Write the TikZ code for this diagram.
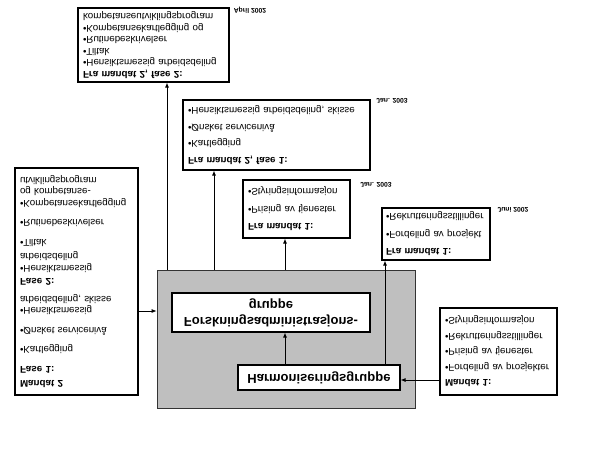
\documentclass[tikz,border=0pt]{standalone}
\usepackage{fontspec}
\setmainfont{Liberation Sans}
\usetikzlibrary{arrows.meta,positioning}

\begin{document}
\begin{tikzpicture}[x=1pt, y=1pt, yscale=-1,
    every node/.append style={transform shape},
    boks/.style={draw, line width=1.2pt, fill=white, align=left, inner xsep=4pt, inner ysep=2pt, font=\fontsize{9.8}{11.5}\selectfont},
    gruppeboks/.style={draw, line width=1.2pt, fill=white, align=center, inner sep=2pt, font=\fontsize{13}{16}\selectfont\bfseries},
    dato/.style={inner sep=0pt, font=\fontsize{6.8}{8}\selectfont\bfseries},
    pil/.style={-{Latex[length=5pt,width=4pt]}, line width=0.8pt}]
    \useasboundingbox (0,0) rectangle (599,448);
    % mandater
    \node [boks, text width=113pt, minimum width=123pt, minimum height=227pt] (mandat2) at (76.5,281.5) {\textbf{Mandat 2}\\[3pt] \textbf{Fase 1:}\\[8pt] •Kartlegging\\[8pt] •Ønsket servicenivå\\[8pt] •Hensiktsmessig\\ arbeidsdeling, skisse\\[6pt] \textbf{Fase 2:}\\[2pt] •Hensiktsmessig\\ arbeidsdeling\\[3pt] •Tiltak\\[8pt] •Rutinebeskrivelser\\[8pt] •Kompetansekartlegging\\ og kompetanse-\\ utviklingsprogram};
    \node [boks, text width=107pt, minimum width=117pt, minimum height=87pt] (mandat1) at (498.5,351.5) {\textbf{Mandat 1:}\\[4pt] •Fordeling av prosjekter\\[4pt] •Prising av tjenester\\[4pt] •Rekrutteringsstillinger\\[4pt] •Styringsinformasjon};
    % gruppene
    \node [draw=black!80, line width=0.8pt, fill=black!25, minimum width=258pt, minimum height=138pt] (gruppe) at (286,339) {};
    \node [gruppeboks, minimum width=198pt, minimum height=39pt] (forskning) at (271,312.5) {Forskningsadministrasjons-\\ gruppe};
    \node [gruppeboks, minimum width=162pt, minimum height=25pt] (harmonisering) at (319,377.5) {Harmoniseringsgruppe};
    % leveranser
    \node [boks, text width=141pt, minimum width=151pt, minimum height=74pt] (fase22) at (153.5,45) {\textbf{Fra mandat 2, fase 2:}\\ •Hensiktsmessig arbeidsdeling\\ •Tiltak\\ •Rutinebeskrivelser\\ •Kompetansekartlegging og\\ kompetanseutviklingsprogram};
    \node [boks, text width=177pt, minimum width=187pt, minimum height=70pt] (fase21) at (276.5,135) {\textbf{Fra mandat 2, fase 1:}\\[5pt] •Kartlegging\\[5pt] •Ønsket servicenivå\\[5pt] •Hensiktsmessig arbeidsdeling, skisse};
    \node [boks, text width=97pt, minimum width=107pt, minimum height=58pt] (fra1b) at (296.5,209) {\textbf{Fra mandat 1:}\\[6pt] •Prising av tjenester\\[6pt] •Styringsinformasjon};
    \node [boks, text width=100pt, minimum width=108pt, minimum height=52pt] (fra1a) at (436,234) {\textbf{Fra mandat 1:}\\[6pt] •Fordeling av prosjekt\\[6pt] •Rekrutteringsstillinger};
    % datoer
    \node [dato] (d1) at (250,10) {April 2002};
    \node [dato] (d2) at (392,101) {Jan. 2003};
    \node [dato] (d3) at (376,185) {Jan. 2003};
    \node [dato] (d4) at (513,210) {Juni 2002};
    % piler
    \coordinate (xa) at (167,0);
    \coordinate (xb) at (214,0);
    \coordinate (xc) at (285,0);
    \coordinate (xd) at (385,0);
    \coordinate (ym2) at (0,311);
    \coordinate (ym1) at (0,380);
    \draw [pil] (gruppe.south -| xa) -- (fase22.north -| xa);
    \draw [pil] (gruppe.south -| xb) -- (fase21.north -| xb);
    \draw [pil] (gruppe.south -| xc) -- (fra1b.north -| xc);
    \draw [pil] (harmonisering.south -| xd) -- (fra1a.north -| xd);
    \draw [pil] (harmonisering.south -| xc) -- (forskning.north -| xc);
    \draw [pil] (mandat2.east |- ym2) -- (gruppe.west |- ym2);
    \draw [pil] (mandat1.west |- ym1) -- (harmonisering.east |- ym1);
\end{tikzpicture}
\end{document}
